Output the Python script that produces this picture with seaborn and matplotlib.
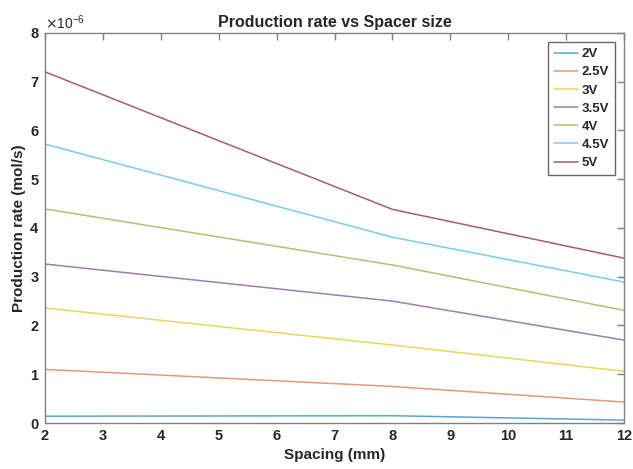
import numpy as np
import pandas as pd
import matplotlib
matplotlib.use("Agg")
import matplotlib.pyplot as plt
import seaborn as sns
from matplotlib.ticker import ScalarFormatter, MultipleLocator

spacing = [2, 8, 12]
voltages = ["2V", "2.5V", "3V", "3.5V", "4V", "4.5V", "5V"]
rate_2V = [0.14, 0.15, 0.06]
rate_2_5V = [1.10, 0.75, 0.43]
rate_3V = [2.36, 1.60, 1.06]
rate_3_5V = [3.26, 2.50, 1.70]
rate_4V = [4.39, 3.24, 2.31]
rate_4_5V = [5.72, 3.81, 2.89]
rate_5V = [7.20, 4.38, 3.38]
scale = 1e-6

series = [rate_2V, rate_2_5V, rate_3V, rate_3_5V, rate_4V, rate_4_5V, rate_5V]
rows = []
for v, vals in zip(voltages, series):
    for x, y in zip(spacing, vals):
        rows.append({"Spacing": x, "Rate": y * scale, "Voltage": v})
df = pd.DataFrame(rows)

colors = ["#5aa6d2", "#e39a7a", "#e8d65a", "#a07cb0", "#a8c672", "#7ccbe8", "#a85a78"]

sns.set_style("white")
plt.rcParams["font.family"] = ["Liberation Sans", "DejaVu Sans"]
text_color = "#262626"
axis_color = "#808080"

fig = plt.figure(figsize=(6.33, 4.69), dpi=100)
ax = fig.add_axes([0.071, 0.098, 0.915, 0.832])

sns.lineplot(data=df, x="Spacing", y="Rate", hue="Voltage", hue_order=voltages,
             palette=colors, linewidth=1.1, ax=ax, legend=True)

ax.set_xlim(2, 12)
ax.set_ylim(0, 8e-6)
ax.xaxis.set_major_locator(MultipleLocator(1))
ax.yaxis.set_major_locator(MultipleLocator(1e-6))
fmt = ScalarFormatter(useMathText=True)
fmt.set_powerlimits((-3, 3))
ax.yaxis.set_major_formatter(fmt)
ax.yaxis.get_offset_text().set_fontsize(10)
ax.yaxis.get_offset_text().set_color("#505050")

ax.tick_params(axis="both", which="major", direction="in", length=5, width=1,
               color=axis_color, top=True, right=True, labelsize=10.5,
               labelcolor=text_color, pad=4)
for lab in ax.get_xticklabels() + ax.get_yticklabels():
    lab.set_fontweight("bold")
for s in ax.spines.values():
    s.set_color(axis_color)
    s.set_linewidth(1.0)

ax.set_title("Production rate vs Spacer size", fontsize=11.5, fontweight="bold",
             color=text_color, pad=4)
ax.set_xlabel("Spacing (mm)", fontsize=11, fontweight="bold", color=text_color, labelpad=4)
ax.set_ylabel("Production rate (mol/s)", fontsize=11, fontweight="bold", color=text_color, labelpad=2)

leg = ax.legend(loc="upper right", frameon=True, fancybox=False, fontsize=9.5,
                handlelength=1.8, handletextpad=0.25, borderpad=0.45, labelspacing=0.45,
                borderaxespad=0.7)
leg.get_frame().set_edgecolor("#404040")
leg.get_frame().set_linewidth(1.0)
for t in leg.get_texts():
    t.set_fontweight("bold")
    t.set_color(text_color)

fig.savefig("out.png", dpi=100)
